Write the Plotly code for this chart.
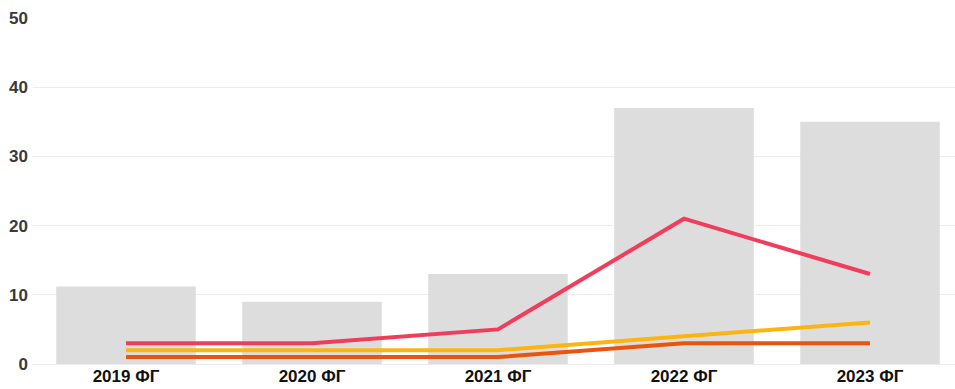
import plotly.graph_objects as go

categories = ["2019 ФГ", "2020 ФГ", "2021 ФГ", "2022 ФГ", "2023 ФГ"]
bar_values = [11.2, 9.0, 13, 37, 35]
red_values = [3, 3, 5, 21, 13]
yellow_values = [2, 2, 2, 4, 6]
orange_values = [1, 1, 1, 3, 3]
y_ticks = [0, 10, 20, 30, 40, 50]

fig = go.Figure()
fig.add_trace(go.Bar(x=categories, y=bar_values, marker=dict(color="#dddddd", line=dict(width=0)),
                     hoverinfo="skip", showlegend=False))
for vals, col in [(orange_values, "#e9540f"), (yellow_values, "#fbb512"), (red_values, "#f23c5c")]:
    fig.add_trace(go.Scatter(x=categories, y=vals, mode="lines",
                             line=dict(color=col, width=4), showlegend=False, hoverinfo="skip"))

fig.update_layout(
    width=955, height=389,
    margin=dict(l=33, r=0, t=18, b=25),
    plot_bgcolor="white", paper_bgcolor="white",
    bargap=0.25,
    font=dict(family="Liberation Sans, Arial, sans-serif"),
)
fig.update_xaxes(range=[-0.5, 4.457], showgrid=False, zeroline=False, showline=False,
                 tickfont=dict(size=17, color="#111111", weight="bold"), ticks="", ticklabelstandoff=0)
fig.update_yaxes(range=[0, 50], tickvals=y_ticks, showgrid=True, gridcolor="#ececec", gridwidth=1,
                 zeroline=True, zerolinecolor="#ececec", zerolinewidth=1, showline=False,
                 tickfont=dict(size=17, color="#3a3a3a", weight="bold"), ticks="",
                 ticklabelstandoff=4)

fig.write_html("out.html")
